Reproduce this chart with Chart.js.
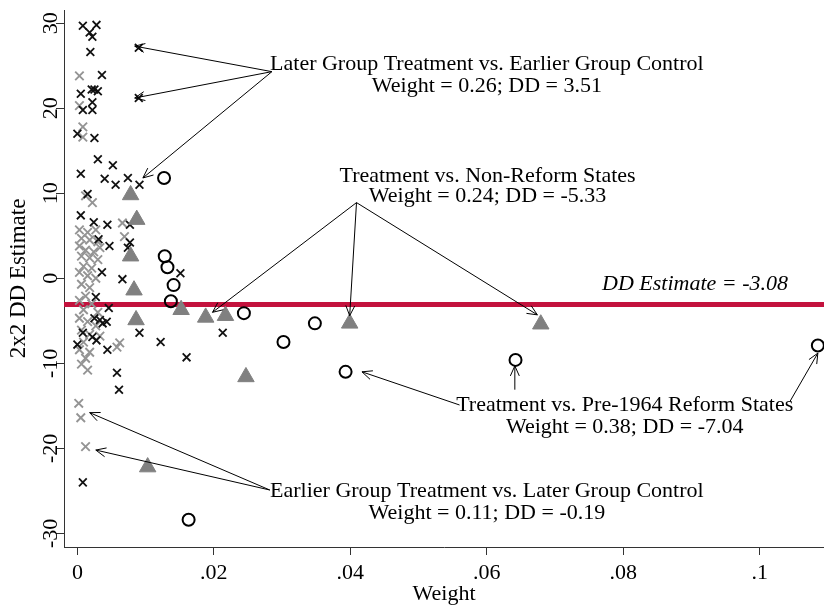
<!DOCTYPE html>
<html>
<head>
<meta charset="utf-8">
<script src="https://cdn.jsdelivr.net/npm/chart.js@4.4.0/dist/chart.umd.min.js"></script>
<style>
body{margin:0;background:#fff;}
#wrap{width:824px;height:607px;}
</style>
</head>
<body>
<div id="wrap"><canvas id="chartBacon" width="824" height="607"></canvas></div>
<script>
var ddEstimate = -3.08;
var xMin = -0.00196, xMax = 0.1094;
var yMin = -31.6, yMax = 31.55;
var xTicks = [0, 0.02, 0.04, 0.06, 0.08, 0.1];
var xTickLabels = ["0", ".02", ".04", ".06", ".08", ".1"];
var yTicks = [-30, -20, -10, 0, 10, 20, 30];

// later group treatment vs earlier group control (black x)
var laterVsEarlier = [[0.0008,29.7],[0.0028,29.8],[0.0018,28.9],[0.0022,28.4],[0.0019,26.6],[0.0036,23.9],[0.0090,27.1],[0.0090,21.2],
  [0.0005,21.7],[0.0021,22.2],[0.0025,22.2],[0.0030,22.0],[0.0022,20.7],[0.0008,19.8],[0.0022,19.8],[0.0000,17.0],[0.0025,16.5],
  [0.0030,14.0],[0.0052,13.3],[0.0005,12.3],[0.0040,11.7],[0.0056,11.0],[0.0074,11.8],[0.0091,11.0],[0.0015,9.9],[0.0005,7.4],
  [0.0024,6.6],[0.0044,6.3],[0.0077,6.3],[0.0031,4.6],[0.0047,3.8],[0.0077,4.2],[0.0074,3.6],[0.0036,0.7],[0.0066,-0.1],[0.0151,0.6],
  [0.0027,-2.2],[0.0046,-3.5],[0.0025,-4.7],[0.0033,-4.9],[0.0037,-5.3],[0.0043,-5.1],[0.0091,-6.4],[0.0122,-7.5],[0.0008,-6.4],
  [0.0022,-6.9],[0.0028,-7.3],[0.0000,-7.8],[0.0044,-8.4],[0.0058,-11.1],[0.0061,-13.1],[0.0160,-9.3],[0.0213,-6.4],[0.0008,-24.0]];

// earlier group treatment vs later group control (grey x)
var earlierVsLater = [[0.0003,23.8],[0.0003,20.3],[0.0008,17.8],[0.0008,16.6],[0.0012,9.7],[0.0022,8.9],[0.0066,6.5],[0.0069,4.9],
  [0.0062,-7.6],[0.0058,-8.1],[0.0003,5.7],[0.0015,5.4],[0.0027,5.7],[0.0006,4.7],[0.0018,4.5],[0.0030,4.3],[0.0003,3.8],[0.0012,3.3],
  [0.0024,3.1],[0.0033,3.6],[0.0006,2.6],[0.0018,2.4],[0.0030,2.2],[0.0009,1.4],[0.0021,1.2],[0.0003,0.7],[0.0015,0.3],[0.0027,0.0],
  [0.0006,-0.7],[0.0018,-1.1],[0.0012,-2.1],[0.0003,-2.6],[0.0021,-3.0],[0.0009,-3.7],[0.0030,-4.0],[0.0003,-4.7],[0.0015,-5.1],
  [0.0027,-5.6],[0.0006,-6.1],[0.0018,-6.6],[0.0033,-6.8],[0.0009,-7.5],[0.0003,-8.4],[0.0018,-8.7],[0.0012,-9.4],[0.0006,-10.1],
  [0.0015,-10.8],[0.0002,-14.7],[0.0005,-16.4],[0.0012,-19.8]];

// treatment vs non-reform states (triangles)
var treatVsNonReform = [[0.0078,9.8],[0.0087,6.9],[0.0078,2.6],[0.0083,-1.4],[0.0086,-4.9],[0.0152,-3.7],[0.0188,-4.6],[0.0217,-4.4],
  [0.0247,-11.6],[0.0399,-5.3],[0.0679,-5.4],[0.0103,-22.2]];

// treatment vs pre-1964 reform states (circles)
var treatVsPre1964 = [[0.0127,11.8],[0.0128,2.6],[0.0132,1.3],[0.0141,-0.8],[0.0137,-2.7],[0.0244,-4.1],[0.0348,-5.3],[0.0302,-7.5],
  [0.0393,-11.0],[0.0642,-9.6],[0.1085,-7.9],[0.0163,-28.4]];

// text labels + arrows, in data units
var annotations = [
  {x: 0.060, y: [25.2, 22.6], lines: ["Later Group Treatment vs. Earlier Group Control", "Weight = 0.26; DD = 3.51"],
   arrows: [[0.0285,24.3,0.0084,27.3],[0.0285,24.3,0.0084,21.2],[0.0285,24.3,0.0096,11.8]]},
  {x: 0.0601, y: [12.0, 9.6], lines: ["Treatment vs. Non-Reform States", "Weight = 0.24; DD = -5.33"],
   arrows: [[0.0409,8.9,0.0198,-4.0],[0.0409,8.9,0.0399,-4.4],[0.0409,8.9,0.0674,-4.3]]},
  {x: 0.0802, y: [-14.9, -17.5], lines: ["Treatment vs. Pre-1964 Reform States", "Weight = 0.38; DD = -7.04"],
   arrows: [[0.0560,-14.9,0.0417,-11.0],[0.0641,-13.1,0.0641,-10.3],[0.1044,-14.5,0.1085,-8.8]]},
  {x: 0.060, y: [-25.0, -27.6], lines: ["Earlier Group Treatment vs. Later Group Control", "Weight = 0.11; DD = -0.19"],
   arrows: [[0.0282,-24.9,0.0018,-15.8],[0.0282,-24.9,0.0027,-20.2]]}
];
var ddLabel = {x: 0.0905, y: -0.7, text: "DD Estimate = -3.08"};

var serif = '"Liberation Serif", "Times New Roman", serif';

function toPts(arr){
  return arr.map(function(p){ return {x: p[0], y: p[1]}; });
}

function drawArrow(ctx, x1, y1, x2, y2){
  var ang = Math.atan2(y2 - y1, x2 - x1), len = 11, spread = 0.42;
  ctx.beginPath();
  ctx.moveTo(x1, y1);
  ctx.lineTo(x2, y2);
  ctx.moveTo(x2 - len*Math.cos(ang - spread), y2 - len*Math.sin(ang - spread));
  ctx.lineTo(x2, y2);
  ctx.lineTo(x2 - len*Math.cos(ang + spread), y2 - len*Math.sin(ang + spread));
  ctx.stroke();
}

var annotPlugin = {
  id: 'annot',
  afterDatasetsDraw: function(chart){
    var ctx = chart.ctx, xs = chart.scales.x, ys = chart.scales.y;
    ctx.save();
    ctx.fillStyle = '#000';
    ctx.strokeStyle = '#000';
    ctx.lineWidth = 1;
    ctx.font = '22px ' + serif;
    ctx.textAlign = 'center';
    ctx.textBaseline = 'middle';
    annotations.forEach(function(a){
      a.lines.forEach(function(t, i){
        ctx.fillText(t, xs.getPixelForValue(a.x), ys.getPixelForValue(a.y[i]));
      });
      a.arrows.forEach(function(ar){
        drawArrow(ctx, xs.getPixelForValue(ar[0]), ys.getPixelForValue(ar[1]), xs.getPixelForValue(ar[2]), ys.getPixelForValue(ar[3]));
      });
    });
    ctx.font = 'italic 22px ' + serif;
    ctx.fillText(ddLabel.text, xs.getPixelForValue(ddLabel.x), ys.getPixelForValue(ddLabel.y));
    ctx.restore();
  }
};

var ctx = document.getElementById('chartBacon').getContext('2d');
window.baconChart = new Chart(ctx, {
  type: 'scatter',
  data: {
    datasets: [
      { label: 'Treatment vs. Pre-1964 Reform States', data: toPts(treatVsPre1964), pointStyle: 'circle', pointRadius: 6,
        borderColor: '#000', backgroundColor: 'rgba(255,255,255,0)', borderWidth: 2, order: 1 },
      { label: 'Treatment vs. Non-Reform States', data: toPts(treatVsNonReform), pointStyle: 'triangle', pointRadius: 9.5,
        borderColor: '#808080', backgroundColor: '#808080', borderWidth: 1, order: 2 },
      { label: 'Later Group Treatment vs. Earlier Group Control', data: toPts(laterVsEarlier), pointStyle: 'crossRot', pointRadius: 5.5,
        borderColor: '#111', borderWidth: 1.8, order: 3 },
      { label: 'Earlier Group Treatment vs. Later Group Control', data: toPts(earlierVsLater), pointStyle: 'crossRot', pointRadius: 6,
        borderColor: '#949494', borderWidth: 1.9, order: 4 },
      { type: 'line', label: 'DD Estimate', data: [{x: xMin, y: ddEstimate}, {x: xMax, y: ddEstimate}],
        borderColor: '#c3123d', borderWidth: 5, pointRadius: 0, order: 10 }
    ]
  },
  options: {
    responsive: false,
    animation: false,
    devicePixelRatio: 1,
    clip: false,
    layout: { autoPadding: false, padding: { top: 10, right: 0, left: 0, bottom: 0 } },
    plugins: { legend: { display: false }, tooltip: { enabled: false } },
    scales: {
      x: {
        type: 'linear', min: xMin, max: xMax,
        afterBuildTicks: function(s){ s.ticks = xTicks.map(function(v){ return {value: v}; }); },
        afterFit: function(s){ s.height = 60; s.paddingLeft = 0; s.paddingRight = 0; },
        grid: { drawOnChartArea: false, drawTicks: true, tickLength: 8, color: '#333', lineWidth: 1 },
        border: { display: true, color: '#333', width: 1 },
        ticks: { color: '#000', font: { family: serif, size: 22 }, padding: 5, maxRotation: 0,
          callback: function(v, i){ return xTickLabels[i]; } },
        title: { display: true, text: 'Weight', color: '#000', font: { family: serif, size: 22 }, padding: { top: 0, bottom: 0 } }
      },
      y: {
        type: 'linear', min: yMin, max: yMax,
        afterBuildTicks: function(s){ s.ticks = yTicks.map(function(v){ return {value: v}; }); },
        afterFit: function(s){ s.width = 64; s.paddingTop = 0; s.paddingBottom = 0; },
        grid: { drawOnChartArea: false, drawTicks: true, tickLength: 8, color: '#333', lineWidth: 1 },
        border: { display: true, color: '#333', width: 1 },
        ticks: { color: '#000', font: { family: serif, size: 22 }, padding: -10, minRotation: 90, maxRotation: 90, crossAlign: 'center',
          callback: function(v){ return String(v); } },
        title: { display: true, text: '2x2 DD Estimate', color: '#000', font: { family: serif, size: 23 }, padding: { top: 5, bottom: 0 } }
      }
    }
  },
  plugins: [annotPlugin]
});
</script>
</body>
</html>
